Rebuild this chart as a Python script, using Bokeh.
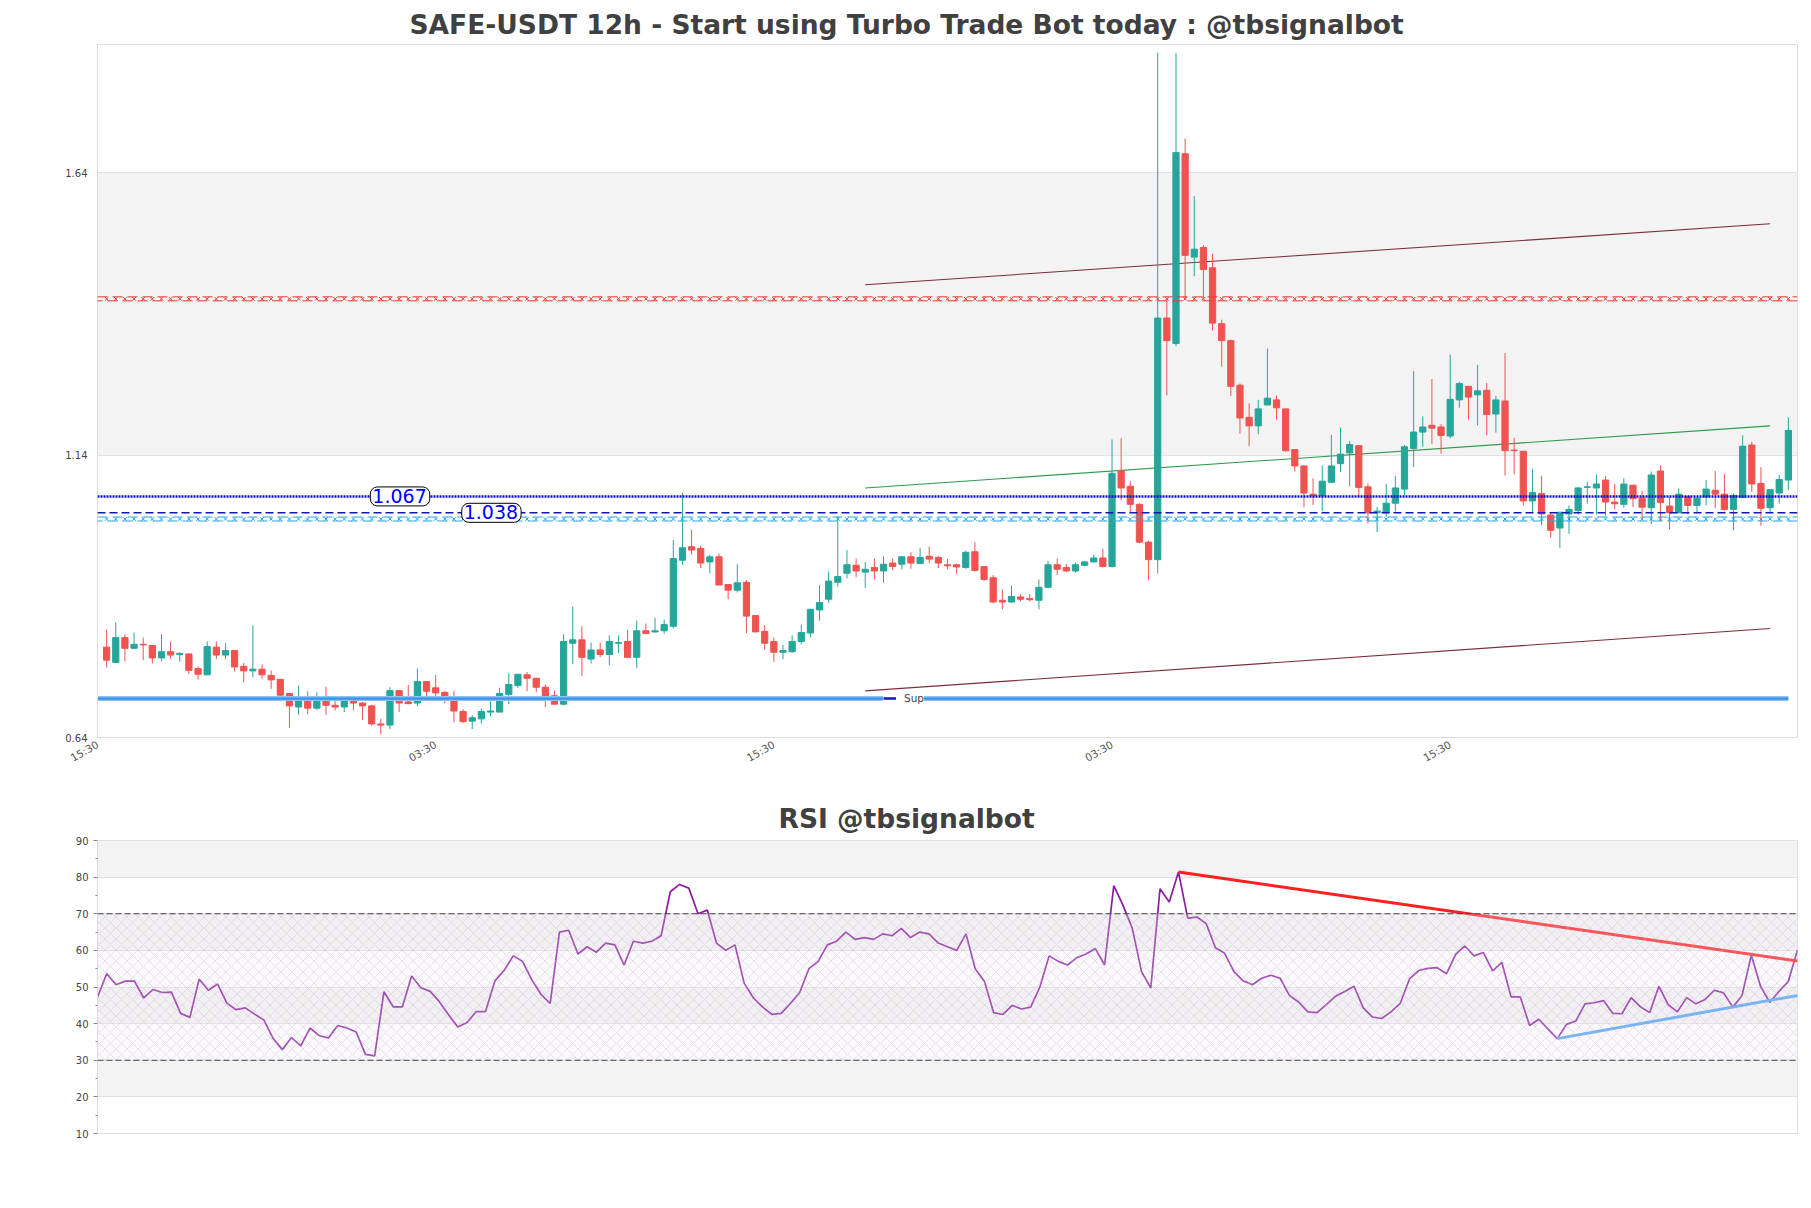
import numpy as np
from bokeh.plotting import figure
from bokeh.models import (ColumnDataSource, Span, Label, Legend, LegendItem,
                          FixedTicker, BoxAnnotation, Range1d)
from bokeh.layouts import column
from bokeh.embed import file_html
from bokeh.resources import INLINE

# ---------------- data ----------------
opens = [0.800,0.773,0.817,0.798,0.805,0.803,0.781,0.792,0.787,0.788,0.762,0.751,0.800,0.786,0.794,0.766,0.758,0.761,0.750,0.743,
         0.718,0.694,0.709,0.692,0.710,0.697,0.694,0.706,0.701,0.696,0.664,0.662,0.723,0.703,0.701,0.739,0.728,0.720,0.707,0.686,
         0.669,0.673,0.685,0.685,0.716,0.732,0.751,0.745,0.729,0.714,0.699,0.807,0.813,0.779,0.795,0.787,0.807,0.810,0.782,0.829,
         0.827,0.829,0.837,0.954,0.978,0.975,0.951,0.960,0.911,0.901,0.915,0.856,0.828,0.810,0.791,0.792,0.810,0.825,0.866,0.885,
         0.915,0.931,0.945,0.933,0.941,0.935,0.949,0.947,0.960,0.948,0.961,0.959,0.946,0.946,0.941,0.969,0.943,0.923,0.883,0.880,
         0.889,0.886,0.883,0.906,0.946,0.941,0.935,0.945,0.951,0.958,0.943,1.113,1.085,1.053,0.986,0.955,1.383,1.338,1.674,1.491,
         1.508,1.472,1.373,1.343,1.264,1.207,1.192,1.229,1.238,1.222,1.150,1.121,1.071,1.068,1.092,1.125,1.144,1.157,1.084,1.038,
         1.038,1.055,1.080,1.152,1.181,1.193,1.190,1.174,1.238,1.262,1.247,1.255,1.213,1.236,1.149,1.147,1.059,1.072,1.034,1.011,
         1.036,1.042,1.083,1.082,1.096,1.057,1.053,1.087,1.064,1.047,1.112,1.050,1.038,1.067,1.051,1.066,1.078,1.071,1.044,1.065,
         1.158,1.090,1.047,1.073,1.096]
highs = [0.831,0.844,0.823,0.826,0.817,0.803,0.823,0.810,0.791,0.788,0.766,0.810,0.810,0.807,0.794,0.772,0.839,0.769,0.759,0.743,
         0.719,0.732,0.722,0.720,0.730,0.705,0.712,0.710,0.703,0.698,0.673,0.729,0.723,0.733,0.762,0.740,0.751,0.722,0.722,0.690,
         0.680,0.691,0.713,0.728,0.754,0.752,0.756,0.745,0.734,0.723,0.823,0.872,0.837,0.808,0.808,0.821,0.821,0.831,0.847,0.842,
         0.852,0.849,0.990,1.074,1.008,0.980,0.964,0.966,0.912,0.947,0.919,0.856,0.839,0.817,0.804,0.821,0.840,0.868,0.910,0.934,
         1.032,0.972,0.957,0.951,0.957,0.961,0.957,0.961,0.968,0.976,0.978,0.961,0.956,0.948,0.971,0.986,0.943,0.928,0.902,0.909,
         0.894,0.894,0.920,0.953,0.957,0.947,0.950,0.953,0.964,0.974,1.168,1.170,1.094,1.055,0.989,1.853,1.413,1.852,1.701,1.599,
         1.512,1.497,1.380,1.345,1.267,1.232,1.238,1.329,1.246,1.222,1.150,1.121,1.099,1.122,1.176,1.189,1.165,1.157,1.090,1.048,
         1.089,1.103,1.158,1.289,1.209,1.275,1.195,1.318,1.270,1.262,1.300,1.268,1.245,1.321,1.171,1.147,1.116,1.103,1.037,1.039,
         1.051,1.083,1.093,1.106,1.103,1.089,1.099,1.087,1.077,1.111,1.122,1.066,1.081,1.067,1.064,1.096,1.112,1.107,1.072,1.175,
         1.164,1.119,1.080,1.105,1.207]
lows = [0.764,0.772,0.775,0.797,0.777,0.771,0.775,0.779,0.774,0.752,0.743,0.751,0.779,0.779,0.757,0.738,0.747,0.744,0.726,0.704,
        0.657,0.680,0.681,0.689,0.680,0.688,0.685,0.688,0.671,0.661,0.646,0.655,0.685,0.699,0.695,0.713,0.713,0.701,0.667,0.666,
        0.655,0.665,0.678,0.685,0.699,0.728,0.722,0.720,0.694,0.699,0.697,0.770,0.749,0.771,0.782,0.768,0.790,0.782,0.763,0.824,
        0.826,0.824,0.833,0.946,0.964,0.940,0.931,0.910,0.885,0.897,0.825,0.827,0.795,0.774,0.779,0.790,0.805,0.817,0.847,0.878,
        0.907,0.922,0.924,0.905,0.920,0.914,0.936,0.938,0.939,0.947,0.949,0.940,0.938,0.930,0.939,0.934,0.917,0.878,0.867,0.879,
        0.881,0.881,0.867,0.904,0.928,0.933,0.932,0.943,0.950,0.941,0.941,1.060,1.038,0.984,0.918,0.931,1.246,1.333,1.417,1.457,
        1.417,1.361,1.297,1.245,1.178,1.156,1.177,1.229,1.203,1.146,1.111,1.048,1.052,1.041,1.092,1.110,1.085,1.066,1.019,1.004,
        1.031,1.040,1.069,1.119,1.155,1.160,1.143,1.170,1.224,1.203,1.193,1.175,1.180,1.104,1.106,1.051,1.037,1.016,0.994,0.976,
        1.001,1.035,1.054,1.035,1.033,1.044,1.047,1.048,1.027,1.018,1.023,1.009,1.038,1.035,1.038,1.051,1.046,1.042,1.007,1.065,
        1.075,1.015,1.038,1.054,1.078]
closes = [0.777,0.817,0.798,0.805,0.804,0.781,0.792,0.786,0.789,0.759,0.752,0.801,0.786,0.794,0.765,0.758,0.761,0.751,0.742,0.715,
          0.696,0.709,0.692,0.709,0.697,0.694,0.706,0.701,0.696,0.664,0.662,0.723,0.701,0.700,0.739,0.722,0.719,0.706,0.687,0.668,
          0.675,0.686,0.687,0.718,0.734,0.752,0.745,0.729,0.712,0.699,0.810,0.813,0.782,0.795,0.787,0.810,0.808,0.782,0.829,0.824,
          0.829,0.840,0.957,0.976,0.972,0.949,0.960,0.910,0.901,0.914,0.855,0.827,0.807,0.791,0.794,0.810,0.826,0.867,0.879,0.917,
          0.925,0.946,0.935,0.938,0.935,0.947,0.943,0.960,0.949,0.959,0.956,0.949,0.944,0.942,0.968,0.936,0.920,0.880,0.880,0.890,
          0.885,0.884,0.906,0.946,0.938,0.935,0.946,0.951,0.958,0.943,1.108,1.082,1.053,0.986,0.955,1.383,1.343,1.676,1.494,1.505,
          1.469,1.374,1.343,1.262,1.206,1.192,1.222,1.241,1.224,1.148,1.121,1.073,1.068,1.094,1.121,1.142,1.159,1.083,1.038,1.041,
          1.055,1.082,1.155,1.181,1.190,1.188,1.175,1.239,1.267,1.243,1.254,1.212,1.238,1.148,1.148,1.059,1.074,1.036,1.007,1.039,
          1.044,1.082,1.084,1.089,1.057,1.054,1.089,1.063,1.048,1.105,1.056,1.038,1.071,1.051,1.064,1.080,1.071,1.044,1.069,1.156,
          1.089,1.046,1.079,1.097,1.184]

rsi = [47.2,53.7,50.6,51.6,51.6,47.0,49.3,48.5,48.6,42.8,41.7,52.1,49.1,50.8,45.6,43.8,44.3,42.6,41.0,36.0,
       32.9,36.2,33.9,38.8,36.7,36.1,39.5,38.8,37.7,31.6,31.2,48.7,44.6,44.6,53.0,49.8,48.8,46.0,42.4,39.1,
       40.3,43.3,43.3,51.6,54.5,58.5,57.0,52.0,48.0,45.5,65.0,65.5,59.0,61.0,59.5,62.0,61.5,56.0,62.5,62.0,
       62.5,64.0,76.0,78.0,77.0,70.0,71.0,62.0,60.0,61.5,51.0,47.0,44.5,42.5,42.8,45.5,48.5,55.0,57.0,61.5,
       62.5,65.0,63.0,63.5,63.0,64.5,64.0,66.0,63.5,65.0,64.5,62.0,61.0,60.0,64.5,55.0,51.5,43.0,42.5,45.0,
       44.0,44.5,50.0,58.5,57.0,56.0,58.0,59.0,60.5,56.0,77.7,72.3,66.0,54.2,49.7,76.8,73.2,81.4,68.8,69.1,
       67.3,60.7,59.2,54.2,51.7,50.6,52.4,53.2,52.4,47.7,45.9,43.2,43.0,45.2,47.5,48.8,50.2,44.3,41.8,41.4,
       43.2,45.5,52.2,54.5,55.1,55.3,53.6,58.9,61.2,58.5,59.4,54.4,56.7,47.3,47.3,39.5,41.2,38.5,35.9,39.8,
       40.7,45.4,45.7,46.3,42.8,42.7,47.1,44.6,43.0,50.2,45.2,43.2,47.1,45.4,46.6,49.1,48.4,44.5,47.7,58.7,
       50.2,45.8,48.8,51.5,60.1]

# horizontal levels
level_res = 1.417      # red patterned resistance
level_a = 1.067        # blue dotted
level_b = 1.038        # blue dashed
level_sup2 = 1.027     # light-blue patterned
level_sup = 0.709      # thick blue "Sup"

# channel lines (index, price)
chan_x = [83, 182]
chan_upper = [1.442, 1.550]
chan_mid = [1.082, 1.192]
chan_lower = [0.7225, 0.833]

# RSI trend lines
rsi_res_x = [117, 184]
rsi_res_y = [81.4, 57.1]
rsi_sup_x = [158, 184]
rsi_sup_y = [35.9, 47.7]

tick_pos = [-1, 36, 73, 110, 147]
tick_labels = ["15:30", "03:30", "15:30", "03:30", "15:30"]
price_ticks = [0.64, 1.14, 1.64]
rsi_ticks = [10, 20, 30, 40, 50, 60, 70, 80, 90]

# ---------------- main chart ----------------
n = len(closes)
idx = np.arange(n)
o = np.array(opens); c = np.array(closes)
up = c >= o
GREEN = "#26a69a"; RED = "#ef5350"
colors = [GREEN if u else RED for u in up]
src = ColumnDataSource(dict(x=idx, o=o, h=highs, l=lows, c=c,
                            top=np.maximum(o, c), bot=np.minimum(o, c), col=colors))

FONT = "DejaVu Sans"
FRAME_LEFT = 97
PAGE_CENTER = 906
Y0, Y1 = 0.64, 1.8675
FRAME_H = 693

p = figure(width=1803, height=790, x_range=Range1d(-1, n), y_range=Range1d(Y0, Y1),
           output_backend="svg", toolbar_location=None,
           min_border_left=FRAME_LEFT, min_border_right=6, min_border_top=44, min_border_bottom=53)
p.title.text = "SAFE-USDT 12h - Start using Turbo Trade Bot today : @tbsignalbot"
p.title.align = "left"
p.title.offset = PAGE_CENTER - FRAME_LEFT - 497
p.title.text_font = FONT
p.title.text_font_size = "26.5px"
p.title.text_color = "#404040"
p.title.text_font_style = "bold"
p.title.standoff = 10
p.outline_line_color = "#dddddd"
p.background_fill_color = "white"
p.border_fill_color = "white"

p.xgrid.visible = False
p.ygrid.ticker = FixedTicker(ticks=price_ticks)
p.ygrid.grid_line_color = "#e2e2e2"
p.ygrid.band_fill_color = "#f3f3f3"
p.ygrid.band_fill_alpha = 1.0

p.yaxis.ticker = FixedTicker(ticks=price_ticks)
p.yaxis.major_label_overrides = {t: f"{t:.2f}" for t in price_ticks}
p.yaxis.major_tick_line_color = None
p.yaxis.minor_tick_line_color = None
p.yaxis.major_tick_out = 0
p.yaxis.major_label_standoff = 10
p.yaxis.axis_line_color = "#dddddd"
p.yaxis.major_label_text_font = FONT
p.yaxis.major_label_text_font_size = "10px"
p.yaxis.major_label_text_color = "#444444"

p.xaxis.ticker = FixedTicker(ticks=tick_pos)
p.xaxis.major_label_overrides = {t: s for t, s in zip(tick_pos, tick_labels)}
p.xaxis.major_label_orientation = 0.52
p.xaxis.major_tick_line_color = None
p.xaxis.minor_tick_line_color = None
p.xaxis.major_tick_out = 0
p.xaxis.major_label_standoff = 6
p.xaxis.axis_line_color = "#dddddd"
p.xaxis.major_label_text_font = FONT
p.xaxis.major_label_text_font_size = "10.5px"
p.xaxis.major_label_text_color = "#555555"

# patterned horizontal levels: two thin dashed strands with small crosses
px = (Y1 - Y0) / FRAME_H      # one screen pixel in price units
def patterned(fig, loc, color):
    for sgn, off in ((1, 0), (-1, 5)):
        fig.add_layout(Span(location=loc + sgn * 2 * px, dimension="width", line_color=color,
                            line_width=1, line_dash="10 5", line_dash_offset=off))
    fig.scatter(x=idx, y=np.full(n, loc), marker="x", size=5, line_color=color, line_width=1)

patterned(p, level_res, "#e53935")
patterned(p, level_sup2, "#2aa6e0")
p.add_layout(Span(location=level_b, dimension="width", line_color="#1515b0", line_width=1.5, line_dash="8 4"))
p.add_layout(Span(location=level_a, dimension="width", line_color="#1010cc", line_width=2.5, line_dash="2 1"))

# channel
p.line(chan_x, chan_upper, line_color="#7a2d3c", line_width=1.1)
p.line(chan_x, chan_mid, line_color="#2e9a4a", line_width=1.1)
p.line(chan_x, chan_lower, line_color="#7a2d3c", line_width=1.1)

# candles
p.segment(x0="x", y0="h", x1="x", y1="l", color="col", line_width=1, source=src)
p.vbar(x="x", width=0.68, top="top", bottom="bot", fill_color="col", line_color="col",
       line_width=1, source=src)

# Sup line
sup_x = [-12, n - 1]
p.line(sup_x, [level_sup, level_sup], line_color="#8cc3f5", line_width=5)
p.line(sup_x, [level_sup, level_sup], line_color="#3d90e6", line_width=2.2)

# labels
for xv, yv in ((32.1, level_a), (42.1, level_b)):
    p.add_layout(Label(x=xv, y=yv, text=f"{yv:.3f}", text_align="center", text_baseline="middle",
                       text_color="#0000ff", text_font=FONT, text_font_size="19px",
                       background_fill_color="white", border_line_color="black", border_line_width=1,
                       border_radius=7, padding=(2, 3, 2, 3)))

# legend (zero-length line renderer only provides the legend glyph)
dummy = p.line(x=[n - 1, n - 1], y=[level_b, level_b], line_color="#1a1aa8", line_width=2.5)
legend = Legend(items=[LegendItem(label="Sup", renderers=[dummy])], location=(786, 33),
                background_fill_color="white", background_fill_alpha=1.0, border_line_color=None,
                label_text_font=FONT, label_text_font_size="10.5px", glyph_width=13, glyph_height=12,
                padding=8, margin=0, spacing=0, label_standoff=8, label_height=12)
p.add_layout(legend, "center")

# ---------------- RSI ----------------
rk = np.arange(len(rsi))
q = figure(width=1803, height=365, x_range=Range1d(0, len(rsi) - 1), y_range=Range1d(10, 90),
           output_backend="svg", toolbar_location=None,
           min_border_left=FRAME_LEFT, min_border_right=6, min_border_top=50, min_border_bottom=22)
q.title.text = "RSI @tbsignalbot"
q.title.align = "left"
q.title.offset = PAGE_CENTER - FRAME_LEFT - 128
q.title.text_font = FONT
q.title.text_font_size = "26.5px"
q.title.text_color = "#404040"
q.title.text_font_style = "bold"
q.title.standoff = 13
q.outline_line_color = "#dddddd"
q.xaxis.visible = False
q.xgrid.visible = False
q.ygrid.ticker = FixedTicker(ticks=rsi_ticks)
q.ygrid.grid_line_color = "#e2e2e2"
q.ygrid.band_fill_color = "#f3f3f3"
q.ygrid.band_fill_alpha = 1.0
q.yaxis.ticker = FixedTicker(ticks=rsi_ticks, minor_ticks=[t + 5 for t in rsi_ticks[:-1]])
q.yaxis.major_tick_out = 4
q.yaxis.major_tick_in = 0
q.yaxis.minor_tick_out = 2
q.yaxis.minor_tick_in = 0
q.yaxis.major_tick_line_color = "#888888"
q.yaxis.minor_tick_line_color = "#888888"
q.yaxis.axis_line_color = "#dddddd"
q.yaxis.major_label_standoff = 5
q.yaxis.major_label_text_font = FONT
q.yaxis.major_label_text_font_size = "10px"
q.yaxis.major_label_text_color = "#444444"

q.add_layout(BoxAnnotation(bottom=30, top=70, fill_color="#efe6f3", fill_alpha=0.25,
                           hatch_pattern="x", hatch_color="#b9a6c8", hatch_alpha=0.5,
                           hatch_scale=11, hatch_weight=0.6, line_color=None))
q.add_layout(Span(location=70, dimension="width", line_color="#444444", line_width=1.1, line_dash="6 3"))
q.add_layout(Span(location=30, dimension="width", line_color="#444444", line_width=1.1, line_dash="6 3"))

q.line(rk, rsi, line_color="#8a1e9e", line_width=1.7)
q.line(rsi_res_x, rsi_res_y, line_color="#ff2020", line_width=3)
q.line(rsi_sup_x, rsi_sup_y, line_color="#4ea3f2", line_width=3)

layout = column(p, q, spacing=0)
open("out.html", "w").write(file_html(layout, INLINE))
